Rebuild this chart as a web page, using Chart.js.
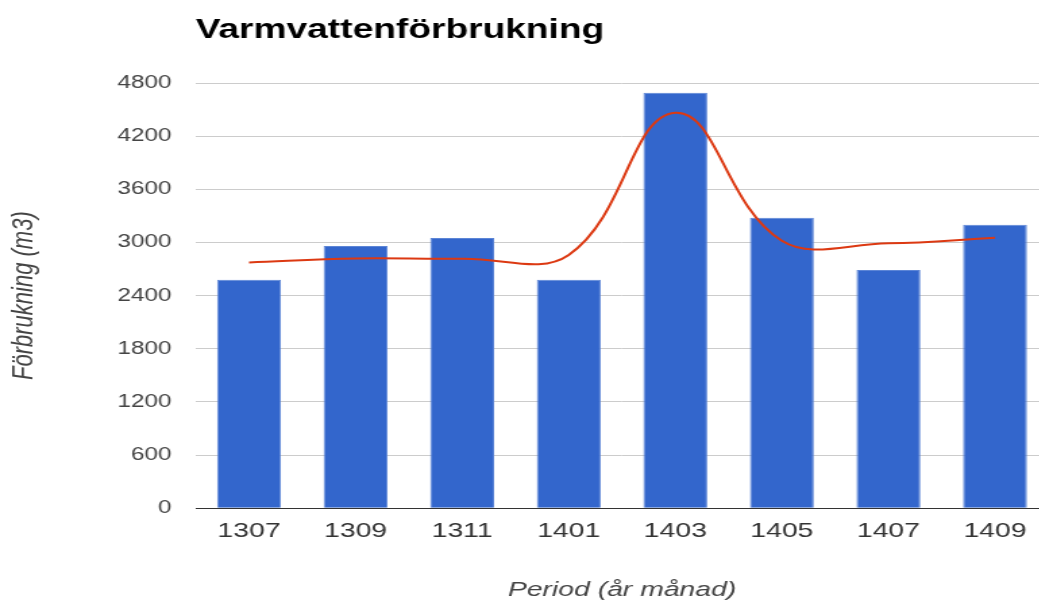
<!DOCTYPE html>
<html lang="sv">
<head>
<meta charset="utf-8">
<title>Varmvattenförbrukning</title>
<script src="https://cdn.jsdelivr.net/npm/chart.js@4.4.1/dist/chart.umd.min.js"></script>
<style>
    html, body { margin: 0; padding: 0; background: #fff; overflow: hidden; }
    /* the reference picture is stretched sideways, so the chart is too */
    #wrap {
        width: 778px;
        height: 603px;
        transform: scaleX(1.35);
        transform-origin: 0 0;
    }
</style>
</head>
<body>
<div id="wrap"><canvas id="usage-chart"></canvas></div>
<script>
// Perioder (år + månad)
const periods = ['1307', '1309', '1311', '1401', '1403', '1405', '1407', '1409'];

// Förbrukning per period (m3)
const usageValues = [2580, 2960, 3050, 2580, 4690, 3280, 2690, 3200];

// Röd utjämnad kurva
const trendValues = [2775, 2820, 2817, 2860, 4465, 3020, 2990, 3054];

const yTicks = [0, 600, 1200, 1800, 2400, 3000, 3600, 4200, 4800];

const chartTitle = 'Varmvattenförbrukning';
const xTitle = 'Period (år månad)';
const yTitle = 'Förbrukning (m3)';

const usageCanvas = document.getElementById('usage-chart');

new Chart(usageCanvas, {
    type: 'bar',
    data: {
        labels: periods,
        datasets: [
            {
                type: 'line',
                label: 'Trend',
                data: trendValues,
                borderColor: '#dc3912',
                borderWidth: 2,
                pointRadius: 0,
                tension: 0.4,
                fill: false,
                order: 0,
            },
            {
                label: 'Förbrukning',
                data: usageValues,
                backgroundColor: '#3366cc',
                borderColor: '#5c85d6',
                borderWidth: 1,
                categoryPercentage: 1,
                barPercentage: 0.6,
                order: 1,
            },
        ]
    },
    options: {
        responsive: true,
        maintainAspectRatio: false,
        animation: false,
        layout: {
            padding: { left: 0, right: 1.5, top: 0, bottom: 0 }
        },
        plugins: {
            legend: { display: false },
            tooltip: { enabled: false },
            title: {
                display: true,
                text: chartTitle,
                align: 'start',
                fullSize: false,
                color: '#000',
                font: { family: "'Liberation Sans', Arial, sans-serif", size: 27.5, weight: 'bold' },
                padding: { top: 14, bottom: 36 },
            },
        },
        scales: {
            x: {
                grid: { display: false, drawTicks: false },
                border: { display: true, color: '#333', width: 1 },
                ticks: {
                    color: '#333',
                    padding: 10,
                    font: { family: "'Liberation Sans', Arial, sans-serif", size: 21 },
                },
                title: {
                    display: true,
                    text: xTitle,
                    color: '#444',
                    padding: { top: 0, bottom: 0 },
                    font: { family: "'Liberation Sans', Arial, sans-serif", size: 21, style: 'italic' },
                },
                afterFit: (scale) => { scale.height = 94.7; },
            },
            y: {
                min: 0,
                max: 4800,
                afterBuildTicks: (scale) => {
                    scale.ticks = yTicks.map((value) => ({ value }));
                },
                grid: { color: '#cccccc', lineWidth: 1, drawTicks: false },
                border: { display: false },
                ticks: {
                    color: '#444',
                    padding: 18,
                    font: { family: "'Liberation Sans', Arial, sans-serif", size: 18 },
                    callback: (value) => String(value),
                },
                title: {
                    display: true,
                    text: yTitle,
                    color: '#444',
                    padding: { top: 5, bottom: 0 },
                    font: { family: "'Liberation Sans', Arial, sans-serif", size: 22, style: 'italic' },
                },
                afterFit: (scale) => { scale.width = 145; },
            },
        },
    },
});
</script>
</body>
</html>
